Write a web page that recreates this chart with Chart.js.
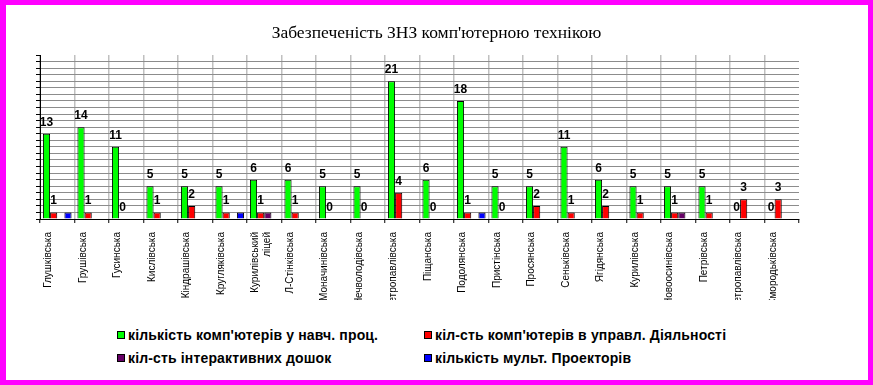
<!DOCTYPE html>
<html><head><meta charset="utf-8">
<script src="https://cdn.jsdelivr.net/npm/chart.js@4"></script>
<style>
html,body{margin:0;padding:0;background:#fff;}
#wrap{position:relative;width:873px;height:385px;overflow:hidden;background:#fff;}
#frame{position:absolute;left:0;top:0;width:873px;height:385px;box-sizing:border-box;border:5px solid #ff00ff;border-left-width:6px;pointer-events:none;z-index:3;}
#cv{position:absolute;left:0;top:0;}
.item{position:absolute;height:16px;line-height:16px;font:bold 14px "Liberation Sans",Arial,sans-serif;letter-spacing:0.15px;color:#000;white-space:nowrap;}
.box{position:absolute;top:4px;width:6px;height:6px;border:1px solid #000;}
.txt{position:absolute;top:0;}
</style>
</head><body>
<div id="wrap">
<canvas id="cv" width="873" height="300"></canvas>
<div id="legend"></div>
<div id="frame"></div>
</div>
<script>
const categories = ['Глушківська','Грушівська','Гусинська','Кислівська','Кіндрашівська','Кругляківська',['Курилівський','ліцей'],'Л-Стінківська','Моначинівська','Нечволодівська','Петропавлівська','Піщанська','Подолянська','Пристінська','Просянська','Сеньківська','Ягідянська','Курилівська','Новоосинівська','Петрівська','Петропавлівська','Смородьківська'];
const seriesNames = ["кількість комп'ютерів у навч. проц.","кіл-сть комп'ютерів в управл. Діяльності","кіл-сть інтерактивних дошок","кількість мульт. Проекторів"];
const computersEdu = [13,14,11,5,5,5,6,6,5,5,21,6,18,5,5,11,6,5,5,5,0,0];
const computersAdmin = [1,1,0,1,2,1,1,1,0,0,4,0,1,0,2,1,2,1,1,1,3,3];
const boards = [0,0,0,0,0,0,1,0,0,0,0,0,0,0,0,0,0,0,1,0,0,0];
const projectors = [1,0,0,0,0,1,0,0,0,0,0,0,1,0,0,0,0,0,0,0,0,0];
const colors = ['#00ff00','#ff0000','#660066','#0000ff'];
const titleText = "Забезпеченість ЗНЗ комп'ютерною технікою";

const valueLabels = {
  id: 'valueLabels',
  afterDatasetsDraw(chart) {
    const ctx = chart.ctx;
    ctx.save();
    ctx.font = 'bold 12px "Liberation Sans", Arial, sans-serif';
    ctx.fillStyle = '#000';
    ctx.textAlign = 'center';
    ctx.textBaseline = 'alphabetic';
    [0, 1].forEach(di => {
      const meta = chart.getDatasetMeta(di);
      meta.data.forEach((bar, i) => {
        const v = chart.data.datasets[di].data[i];
        ctx.fillText(String(v), bar.x, bar.y - 8);
      });
    });
    ctx.restore();
  }
};

const allSeries = [computersEdu, computersAdmin, boards, projectors];
const chart = new Chart(document.getElementById('cv'), {
  type: 'bar',
  data: {
    labels: categories,
    datasets: allSeries.map((d, i) => ({
      label: seriesNames[i],
      data: d,
      backgroundColor: colors[i],
      borderColor: '#000',
      borderWidth: 1,
      categoryPercentage: 0.83,
      barPercentage: 1.0,
      yAxisID: 'y'
    }))
  },
  options: {
    responsive: false,
    animation: false,
    events: [],
    layout: { padding: { left: 0, right: 0, top: 0, bottom: 0 } },
    plugins: {
      legend: { display: false },
      tooltip: { enabled: false },
      title: {
        display: true,
        text: titleText,
        color: '#000',
        font: { family: '"Liberation Serif","Times New Roman",serif', size: 17.5, weight: 'normal', lineHeight: 1.2 },
        padding: { top: 23, bottom: 11 }
      }
    },
    scales: {
      x: {
        offset: true,
        grid: {
          offset: true,
          color: c => c.type === 'tick' ? '#c0c0c0' : 'rgba(0,0,0,0)',
          lineWidth: 1.5,
          tickColor: '#000',
          tickWidth: 1,
          tickLength: 4,
          drawTicks: true
        },
        border: { display: true, color: '#000', width: 1 },
        ticks: {
          autoSkip: false,
          maxRotation: 90,
          minRotation: 90,
          labelOffset: -9,
          padding: 9,
          color: '#000',
          font: { family: '"Liberation Sans",Arial,sans-serif', size: 10 }
        },
        afterFit(s) { s.height = 81; }
      },
      y: {
        min: 0,
        max: 25,
        position: 'left',
        grid: {
          color: c => (c.tick && c.tick.value === 25) ? 'rgba(0,0,0,0)' : '#8c8c8c',
          lineWidth: 1,
          tickColor: '#000',
          tickLength: 4,
          drawTicks: true
        },
        border: { display: true, color: '#000', width: 1 },
        ticks: { display: false, stepSize: 1 },
        afterFit(s) { s.width = 40; }
      },
      yR: {
        position: 'right',
        display: true,
        grid: { display: false, drawTicks: false },
        border: { display: false },
        ticks: { display: false },
        afterFit(s) { s.width = 74; }
      }
    }
  },
  plugins: [valueLabels]
});

// HTML legend built from the chart's datasets
const legendPos = [[117, 327], [424, 327], [117, 350], [424, 350]];
const legendEl = document.getElementById('legend');
chart.data.datasets.forEach((ds, i) => {
  const it = document.createElement('div');
  it.className = 'item';
  it.style.left = legendPos[i][0] + 'px';
  it.style.top = legendPos[i][1] + 'px';
  const b = document.createElement('div');
  b.className = 'box';
  b.style.left = '0px';
  b.style.background = ds.backgroundColor;
  const t = document.createElement('div');
  t.className = 'txt';
  t.style.left = '11px';
  t.textContent = ds.label;
  it.appendChild(b); it.appendChild(t);
  legendEl.appendChild(it);
});
</script>
</body></html>
